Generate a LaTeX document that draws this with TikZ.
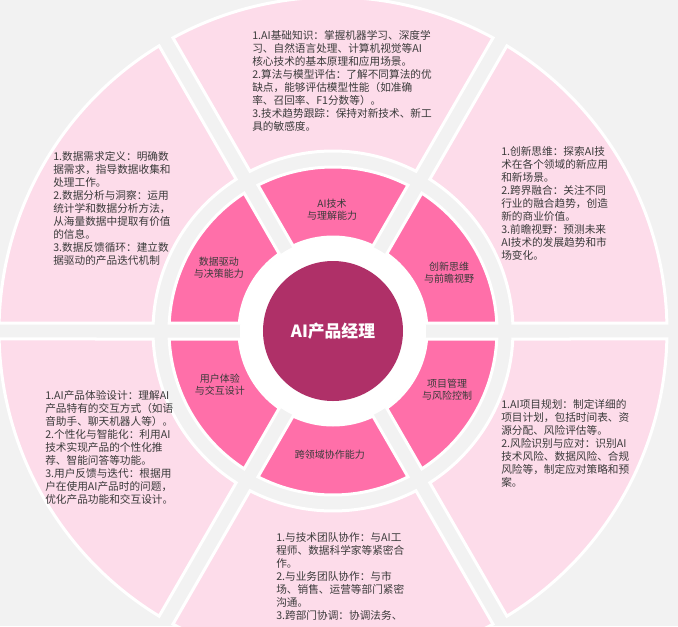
\documentclass[tikz,border=0pt]{standalone}
\usepackage{fontspec}
\setmainfont{Noto Sans CJK SC}
\definecolor{bggray}{HTML}{F2F2F2}
\definecolor{outpink}{HTML}{FDDCEA}
\definecolor{inpink}{HTML}{FF6FA9}
\definecolor{corepink}{HTML}{AF3068}
\definecolor{txtgray}{HTML}{3A3A3A}
\begin{document}
\begin{tikzpicture}[
    x=0.75pt, y=0.75pt,
    outsec/.style={fill=outpink, draw=white, line width=2.25pt},
    insec/.style={fill=inpink, draw=white, line width=2.25pt},
    desc/.style={anchor=north west, inner sep=0pt, align=left, text=txtgray, font=\fontsize{8}{9.8}\selectfont},
    lbl/.style={inner sep=0pt, align=center, text=txtgray, font=\fontsize{7.5}{8.8}\selectfont},
]
    \useasboundingbox (-333,-295) rectangle (345,331);
    \clip (-333,-295) rectangle (345,331);
    \fill[bggray] (-333,-295) rectangle (345,331);

    % Ring sectors
    \foreach \a in {0,60,...,300} {
        \pgfmathsetmacro\sA{\a+asin(8/334)}
        \pgfmathsetmacro\eA{\a+60-asin(8/334)}
        \pgfmathsetmacro\sB{\a+asin(8/180)}
        \pgfmathsetmacro\eB{\a+60-asin(8/180)}
        \draw[outsec] (\sA:334) arc[start angle=\sA, end angle=\eA, radius=334]
            -- (\eB:180) arc[start angle=\eB, end angle=\sB, radius=180] -- cycle;
        \pgfmathsetmacro\sC{\a+asin(8/164)}
        \pgfmathsetmacro\eC{\a+60-asin(8/164)}
        \pgfmathsetmacro\sD{\a+asin(8/94)}
        \pgfmathsetmacro\eD{\a+60-asin(8/94)}
        \draw[insec] (\sC:164) arc[start angle=\sC, end angle=\eC, radius=164]
            -- (\eD:94) arc[start angle=\eD, end angle=\sD, radius=94] -- cycle;
    }
    \fill[white] (0,0) circle[radius=93];

    % Centre
    \node[circle, fill=corepink, inner sep=0pt, minimum size=105pt, text=white,
          font=\fontsize{12.6}{14}\selectfont\bfseries] (core) at (0,0) {AI产品经理};

    % Inner labels
    \node[lbl] (tech) at (-1,121) {AI技术\\与理解能力};
    \node[lbl] (innov) at (116,58) {创新思维\\与前瞻视野};
    \node[lbl] (proj) at (114,-59) {项目管理\\与风险控制};
    \node[lbl] (collab) at (-3,-124) {跨领域协作能力};
    \node[lbl] (ux) at (-113,-54) {用户体验\\与交互设计};
    \node[lbl] (data) at (-114,63) {数据驱动\\与决策能力};

    % Outer texts
    \node[desc] (techdesc) at (-81,301) {1.AI基础知识：掌握机器学习、深度学\\习、自然语言处理、计算机视觉等AI\\核心技术的基本原理和应用场景。\\2.算法与模型评估：了解不同算法的优\\缺点，能够评估模型性能（如准确\\率、召回率、F1分数等）。\\3.技术趋势跟踪：保持对新技术、新工\\具的敏感度。};
    \node[desc] (datadesc) at (-280,180) {1.数据需求定义：明确数\\据需求，指导数据收集和\\处理工作。\\2.数据分析与洞察：运用\\统计学和数据分析方法，\\从海量数据中提取有价值\\的信息。\\3.数据反馈循环：建立数\\据驱动的产品迭代机制};
    \node[desc] (innovdesc) at (168,185) {1.创新思维：探索AI技\\术在各个领域的新应用\\和新场景。\\2.跨界融合：关注不同\\行业的融合趋势，创造\\新的商业价值。\\3.前瞻视野：预测未来\\AI技术的发展趋势和市\\场变化。};
    \node[desc] (uxdesc) at (-288,-59) {1.AI产品体验设计：理解AI\\产品特有的交互方式（如语\\音助手、聊天机器人等）。\\2.个性化与智能化：利用AI\\技术实现产品的个性化推\\荐、智能问答等功能。\\3.用户反馈与迭代：根据用\\户在使用AI产品时的问题，\\优化产品功能和交互设计。};
    \node[desc] (projdesc) at (168,-68) {1.AI项目规划：制定详细的\\项目计划，包括时间表、资\\源分配、风险评估等。\\2.风险识别与应对：识别AI\\技术风险、数据风险、合规\\风险等，制定应对策略和预\\案。};
    \node[desc] (collabdesc) at (-57,-201) {1.与技术团队协作：与AI工\\程师、数据科学家等紧密合\\作。\\2.与业务团队协作：与市\\场、销售、运营等部门紧密\\沟通。\\3.跨部门协调：协调法务、};
\end{tikzpicture}
\end{document}
